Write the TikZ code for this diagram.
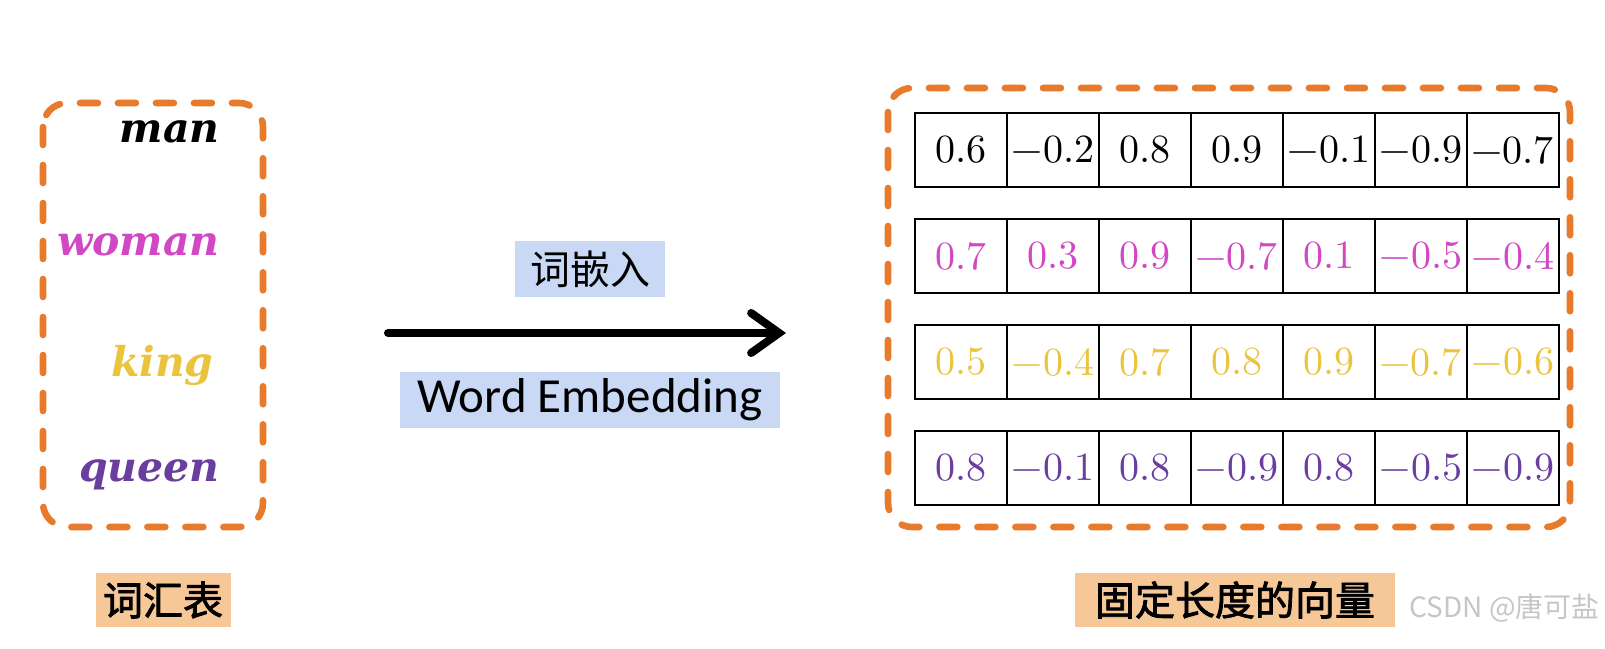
\documentclass[tikz,border=0pt]{standalone}
\usepackage{fontspec}
\usepackage{unicode-math}
\setsansfont{Carlito}
\newfontfamily\cjk{Noto Sans CJK SC}
\newfontfamily\cjkbold[FakeBold=2]{Noto Sans CJK SC}
\newfontfamily\wordfont{DejaVu Serif}
\usetikzlibrary{arrows.meta,positioning}
\definecolor{dashorange}{HTML}{E87A2C}
\definecolor{wordpink}{HTML}{D147C4}
\definecolor{wordgold}{HTML}{EBC43E}
\definecolor{wordpurple}{HTML}{6A3E9E}
\definecolor{tagblue}{HTML}{C9D8F5}
\definecolor{tagpeach}{HTML}{F6C898}

\begin{document}
\begin{tikzpicture}[x=0.5pt,y=-0.5pt]
\tikzset{
  dashbox/.style={draw=dashorange,line width=3.3pt,dash pattern=on 9pt off 10pt,line cap=round,rounded corners=12pt},
  word/.style={anchor=base east,inner sep=0pt,font=\wordfont\fontsize{20.5}{22}\selectfont\bfseries\itshape},
  cell/.style={draw,line width=1pt,minimum width=46pt,minimum height=37pt,inner sep=0pt,font=\fontsize{20}{21}\selectfont},
  bluetag/.style={fill=tagblue,inner sep=0pt,minimum height=28pt},
  peachtag/.style={fill=tagpeach,inner sep=0pt,minimum height=27pt,font=\cjkbold\fontsize{20}{22}\selectfont},
  embedarrow/.style={line width=4pt,line cap=round,-{Straight Barb[length=14pt,width=20pt,line cap=round]}}
}
\useasboundingbox[fill=white] (0,0) rectangle (1605,648);

\draw[dashbox] (43,103) rectangle (263,527);
\node[word] (w_man) at (220,142) {man};
\node[word,text=wordpink] (w_woman) at (220,255) {woman};
\node[word,text=wordgold] (w_king) at (214,376) {king};
\node[word,text=wordpurple] (w_queen) at (220,481) {queen};

\node[bluetag,minimum width=75pt,font=\cjk\fontsize{20}{22}\selectfont] (t_cn) at (590,269) {词嵌入};
\node[bluetag,minimum width=190pt,font=\sffamily\fontsize{24.5}{26}\selectfont] (t_en) at (590,400) {Word Embedding};
\coordinate (a_from) at (388,333);
\coordinate (a_to) at (786,333);
\draw[embedarrow] (a_from) -- (a_to);

\draw[dashbox] (888,88) rectangle (1570,527);
\foreach \vals/\col [count=\r] in {%
  {0.6,-0.2,0.8,0.9,-0.1,-0.9,-0.7}/black,
  {0.7,0.3,0.9,-0.7,0.1,-0.5,-0.4}/wordpink,
  {0.5,-0.4,0.7,0.8,0.9,-0.7,-0.6}/wordgold,
  {0.8,-0.1,0.8,-0.9,0.8,-0.5,-0.9}/wordpurple}
  \foreach \v [count=\k] in \vals
    \node[cell,text=\col] (c\r_\k) at (869+92*\k,44+106*\r) {$\v$};

\node[peachtag,minimum width=67.5pt] (t_vocab) at (163,600) {词汇表};
\node[peachtag,minimum width=160pt] (t_vec) at (1235,600) {固定长度的向量};
\node[text=gray!45,font=\cjk\fontsize{14}{16}\selectfont,anchor=east,inner sep=0pt] (t_mark) at (1600,608) {CSDN @唐可盐};
\end{tikzpicture}
\end{document}
